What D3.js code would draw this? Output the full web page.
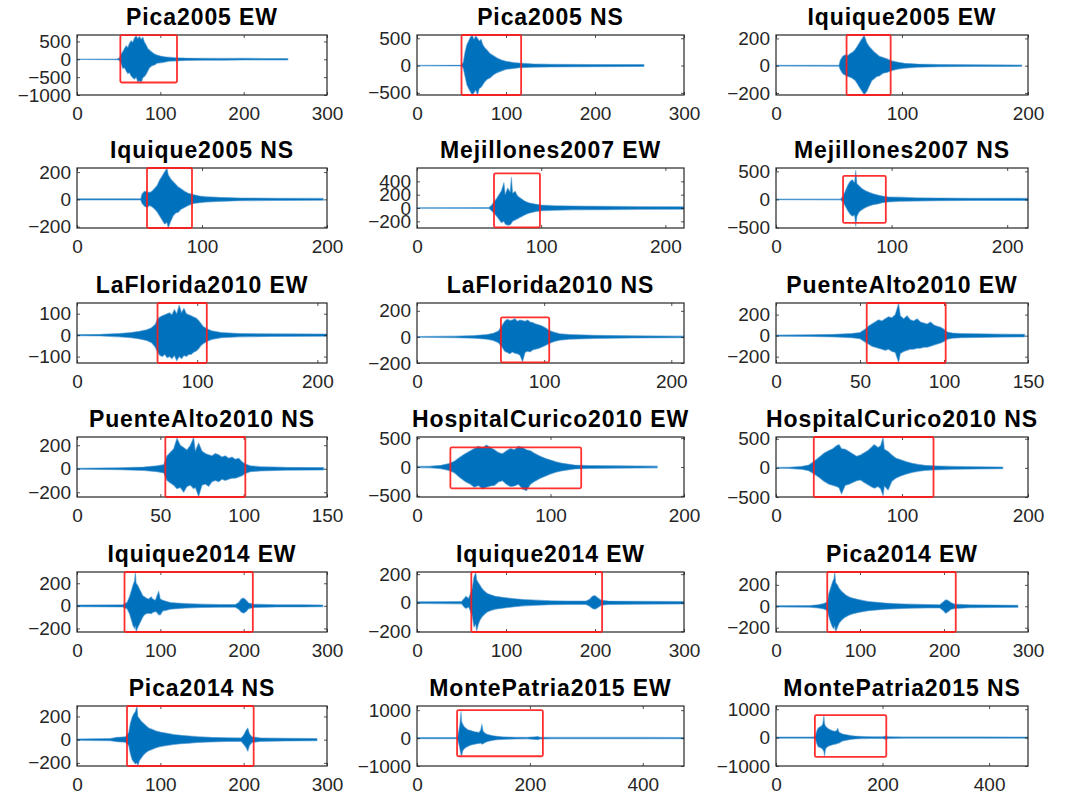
<!DOCTYPE html>
<html>
<head>
<meta charset="utf-8">
<script src="https://cdn.jsdelivr.net/npm/d3@7"></script>
<style>
  body { margin: 0; background: #fff; }
  svg { display: block; }
</style>
</head>
<body>
<svg id="chart" width="1068" height="802"></svg>
<script>
// ---- records: titles, axis limits, ticks ----
const titles = [
  "Pica2005 EW", "Pica2005 NS", "Iquique2005 EW",
  "Iquique2005 NS", "Mejillones2007 EW", "Mejillones2007 NS",
  "LaFlorida2010 EW", "LaFlorida2010 NS", "PuenteAlto2010 EW",
  "PuenteAlto2010 NS", "HospitalCurico2010 EW", "HospitalCurico2010 NS",
  "Iquique2014 EW", "Iquique2014 EW", "Pica2014 EW",
  "Pica2014 NS", "MontePatria2015 EW", "MontePatria2015 NS"
];
const xLimits = [300, 300, 200, 200, 215, 218, 208, 210, 150, 150, 200, 200, 300, 300, 300, 300, 473, 473];
const xTickValues = [
  [0, 100, 200, 300], [0, 100, 200, 300], [0, 100, 200],
  [0, 100, 200], [0, 100, 200], [0, 100, 200],
  [0, 100, 200], [0, 100, 200], [0, 50, 100, 150],
  [0, 50, 100, 150], [0, 100, 200], [0, 100, 200],
  [0, 100, 200, 300], [0, 100, 200, 300], [0, 100, 200, 300],
  [0, 100, 200, 300], [0, 200, 400], [0, 200, 400]
];
const yLimits = [
  [-1000, 680], [-540, 560], [-215, 225],
  [-210, 230], [-300, 600], [-510, 560],
  [-130, 150], [-200, 260], [-260, 310],
  [-240, 270], [-520, 520], [-500, 530],
  [-232, 300], [-205, 215], [-240, 320],
  [-227, 290], [-1000, 1150], [-1000, 1113]
];
const yTickValues = [
  [-1000, -500, 0, 500], [-500, 0, 500], [-200, 0, 200],
  [-200, 0, 200], [-200, 0, 200, 400], [-500, 0, 500],
  [-100, 0, 100], [-200, 0, 200], [-200, 0, 200],
  [-200, 0, 200], [-500, 0, 500], [-500, 0, 500],
  [-200, 0, 200], [-200, 0, 200], [-200, 0, 200],
  [-200, 0, 200], [-1000, 0, 1000], [-1000, 0, 1000]
];

// ---- selected strong-motion windows (time range, amplitude range) ----
const windowTime = [
  [52, 120], [50, 117], [56, 91],
  [56, 92], [62, 99], [58, 95],
  [67, 108], [66, 104], [54, 101],
  [53, 101], [25, 123], [30, 125],
  [57, 211], [61, 208], [61, 214],
  [60, 212], [71, 223], [73, 207]
];
const windowAmp = [
  [-650, 675], [-540, 560], [-215, 225],
  [-210, 230], [-290, 520], [-420, 420],
  [-130, 150], [-195, 150], [-260, 310],
  [-240, 270], [-370, 340], [-500, 530],
  [-232, 300], [-205, 215], [-240, 320],
  [-227, 290], [-650, 1000], [-679, 792]
];

// ---- acceleration envelopes: [time s, upper, lower] ----
const picaEW2005 = [[0,8,-8],[48,10,-10],[51,40,-30],[53,150,-120],[55,220,-260],[57,300,-240],[59,380,-330],[61,330,-400],[63,450,-380],[65,520,-470],[67,480,-520],[69,600,-560],[71,650,-500],[73,580,-640],[75,640,-600],[77,560,-660],[79,620,-520],[81,480,-480],[83,400,-420],[85,300,-330],[87,260,-240],[90,200,-180],[93,150,-160],[96,120,-110],[100,90,-100],[105,70,-80],[110,60,-55],[118,45,-45],[130,35,-35],[150,30,-28],[175,25,-25],[200,28,-22],[225,22,-22],[253,20,-20]];
const picaNS2005 = [[0,6,-6],[50,8,-8],[52,60,-50],[54,250,-200],[56,380,-350],[58,450,-420],[60,520,-480],[62,555,-535],[64,480,-500],[66,540,-450],[68,500,-540],[70,450,-420],[72,480,-400],[74,380,-350],[76,330,-300],[79,280,-250],[82,220,-230],[86,180,-170],[90,140,-130],[95,100,-100],[100,80,-70],[108,55,-55],[115,45,-40],[130,30,-30],[150,25,-25],[200,20,-20],[255,18,-18]];
const iquiqueEW2005 = [[0,3,-3],[50,4,-4],[51,40,-30],[53,70,-60],[55,80,-70],[57,75,-80],[59,90,-85],[61,100,-95],[63,120,-110],[65,150,-140],[67,180,-170],[70,222,-212],[72,170,-190],[74,140,-150],[76,120,-110],[78,100,-95],[80,85,-80],[82,70,-75],[85,60,-55],[88,50,-50],[92,35,-35],[97,25,-25],[102,18,-18],[112,12,-12],[130,8,-8],[160,6,-6],[195,5,-5]];
const iquiqueNS2005 = [[0,4,-4],[51,5,-5],[52,40,-30],[54,60,-50],[56,55,-60],[58,50,-45],[60,60,-55],[62,80,-70],[64,100,-90],[66,140,-120],[68,170,-150],[70,200,-180],[72,228,-170],[73,180,-208],[75,150,-160],[77,130,-120],[79,110,-100],[81,90,-95],[83,80,-75],[86,60,-60],[89,45,-45],[93,35,-30],[98,25,-25],[103,20,-20],[113,15,-15],[130,10,-10],[160,8,-8],[197,7,-7]];
const mejillonesEW2007 = [[0,5,-5],[58,8,-8],[60,40,-40],[62,90,-80],[64,140,-120],[66,200,-170],[68,260,-220],[70,380,-200],[71,200,-240],[73,300,-260],[75,240,-250],[76,460,-230],[77,220,-200],[79,250,-180],[81,180,-160],[84,140,-130],[87,100,-100],[90,80,-80],[95,60,-55],[100,45,-40],[110,35,-35],[125,30,-28],[150,25,-25],[180,20,-20],[215,18,-18]];
const mejillonesNS2007 = [[0,5,-5],[56,8,-8],[58,60,-50],[60,150,-120],[62,250,-200],[64,320,-260],[66,350,-300],[68,300,-280],[69,520,-480],[70,280,-300],[72,240,-220],[74,200,-190],[77,160,-150],[80,130,-120],[84,100,-95],[88,80,-80],[92,60,-60],[97,45,-45],[107,40,-35],[120,30,-30],[140,25,-25],[170,20,-20],[218,18,-18]];
const laFloridaEW2010 = [[0,3,-3],[20,4,-4],[35,8,-8],[45,12,-12],[52,18,-18],[58,25,-25],[62,35,-35],[65,50,-55],[67,75,-80],[69,85,-95],[71,90,-100],[73,95,-90],[75,100,-105],[77,105,-100],[79,95,-110],[81,120,-95],[83,100,-120],[85,140,-100],[87,105,-110],[89,125,-95],[91,100,-100],[93,95,-90],[95,90,-90],[97,85,-80],[99,80,-75],[101,70,-65],[103,55,-50],[105,40,-40],[108,30,-30],[112,20,-20],[120,12,-12],[135,8,-8],[160,6,-6],[208,5,-5]];
const laFloridaNS2010 = [[0,3,-3],[30,6,-6],[45,10,-10],[55,18,-18],[60,28,-28],[64,45,-45],[67,90,-80],[69,120,-110],[71,135,-120],[73,125,-130],[75,130,-115],[77,140,-125],[79,120,-130],[81,130,-140],[83,125,-190],[85,120,-120],[87,130,-110],[89,115,-115],[91,110,-100],[93,100,-95],[95,95,-90],[98,85,-80],[101,70,-65],[104,50,-50],[108,35,-35],[112,25,-25],[120,18,-18],[140,12,-12],[170,8,-8],[210,6,-6]];
const puenteAltoEW2010 = [[0,5,-5],[20,8,-8],[35,12,-12],[45,20,-20],[50,30,-30],[53,60,-60],[55,90,-80],[57,110,-100],[59,130,-110],[61,150,-120],[63,140,-130],[65,160,-140],[67,180,-130],[69,170,-150],[71,200,-160],[73,305,-255],[74,190,-170],[76,160,-150],[78,190,-140],[80,150,-130],[82,140,-130],[84,160,-120],[86,130,-120],[88,120,-110],[90,110,-110],[92,130,-100],[94,100,-90],[96,90,-80],[98,80,-70],[100,60,-55],[102,35,-35],[105,25,-25],[110,20,-20],[120,18,-18],[135,14,-14],[148,12,-12]];
const puenteAltoNS2010 = [[0,4,-4],[25,8,-8],[40,15,-15],[48,25,-25],[52,35,-35],[54,110,-100],[56,140,-120],[58,170,-140],[60,260,-170],[62,200,-160],[64,180,-200],[66,160,-150],[68,200,-140],[70,265,-170],[71,150,-160],[73,220,-235],[75,150,-140],[77,130,-130],[79,120,-150],[81,110,-110],[83,130,-100],[85,120,-110],[87,100,-90],[89,110,-100],[91,90,-90],[93,100,-80],[95,80,-80],[97,90,-70],[99,60,-60],[101,40,-40],[104,25,-25],[110,18,-18],[125,12,-12],[148,10,-10]];
const curicoEW2010 = [[0,10,-10],[10,15,-15],[18,30,-30],[24,60,-60],[28,100,-100],[32,170,-180],[36,230,-250],[40,280,-300],[43,320,-350],[46,360,-320],[49,330,-380],[52,380,-350],[55,340,-330],[58,300,-320],[61,250,-260],[64,230,-240],[67,280,-300],[70,320,-340],[73,300,-330],[76,360,-300],[79,340,-380],[82,300,-410],[85,280,-300],[88,240,-250],[92,190,-200],[96,150,-160],[100,120,-120],[104,90,-90],[108,70,-70],[113,50,-50],[118,35,-35],[128,25,-25],[150,20,-20],[180,15,-15]];
const curicoNS2010 = [[0,8,-8],[10,12,-12],[20,25,-25],[26,50,-50],[30,110,-100],[34,180,-160],[38,250,-230],[42,300,-280],[45,330,-300],[48,380,-320],[50,400,-340],[52,330,-450],[55,320,-300],[58,280,-280],[61,240,-250],[64,200,-220],[67,220,-210],[70,260,-250],[73,300,-290],[76,360,-330],[78,400,-350],[81,350,-320],[83,380,-360],[85,520,-480],[86,320,-310],[89,280,-380],[92,220,-230],[95,170,-180],[99,140,-140],[103,110,-110],[108,80,-80],[113,60,-60],[118,45,-45],[125,35,-35],[140,25,-25],[160,20,-20],[180,15,-15]];
const iquiqueEW2014a = [[0,8,-8],[55,10,-10],[60,30,-25],[63,80,-70],[65,130,-120],[67,180,-170],[69,220,-200],[70,300,-180],[71,200,-230],[73,180,-190],[75,150,-160],[77,120,-130],[79,90,-100],[81,80,-80],[83,70,-70],[86,60,-65],[89,80,-70],[91,60,-60],[94,50,-50],[96,90,-60],[98,130,-80],[100,60,-80],[103,50,-45],[107,40,-40],[112,30,-30],[120,25,-25],[130,20,-20],[150,15,-15],[170,12,-12],[190,12,-12],[194,30,-30],[197,60,-55],[200,70,-65],[203,50,-50],[206,25,-25],[212,15,-15],[240,10,-10],[270,10,-10],[295,8,-8]];
const iquiqueEW2014b = [[0,6,-6],[50,8,-8],[53,30,-30],[55,45,-40],[58,30,-30],[62,100,-90],[64,180,-170],[66,212,-150],[67,160,-200],[69,140,-150],[71,120,-120],[73,100,-100],[76,80,-80],[79,65,-65],[83,55,-55],[88,45,-45],[94,40,-40],[100,35,-35],[110,28,-28],[120,22,-22],[135,18,-18],[150,14,-14],[170,12,-12],[190,12,-12],[194,25,-25],[197,45,-40],[200,50,-45],[203,35,-35],[207,18,-18],[215,12,-12],[250,10,-10],[300,9,-9]];
const picaEW2014 = [[0,6,-6],[40,8,-8],[50,15,-15],[57,25,-25],[61,40,-40],[63,120,-100],[65,170,-150],[67,220,-190],[69,260,-210],[70,320,-180],[71,220,-240],[73,200,-200],[75,170,-160],[78,140,-130],[81,120,-110],[84,100,-95],[88,85,-80],[92,75,-70],[97,65,-60],[103,55,-50],[110,45,-42],[120,38,-35],[130,30,-28],[145,24,-22],[160,20,-18],[180,16,-15],[195,15,-15],[199,40,-40],[202,60,-65],[205,55,-50],[208,35,-30],[213,20,-20],[230,14,-14],[260,12,-12],[288,10,-10]];
const picaNS2014 = [[0,6,-6],[40,10,-10],[48,20,-18],[53,22,-20],[58,25,-22],[62,60,-50],[64,140,-120],[66,190,-170],[68,220,-190],[70,240,-210],[72,288,-200],[73,200,-226],[75,180,-180],[77,160,-160],[80,140,-130],[83,120,-110],[86,100,-95],[90,90,-85],[95,75,-70],[100,65,-60],[108,55,-50],[116,45,-42],[125,38,-35],[135,32,-30],[145,26,-25],[160,20,-20],[180,16,-16],[197,15,-15],[200,40,-40],[203,80,-70],[205,100,-100],[207,50,-50],[210,25,-25],[220,15,-15],[250,12,-12],[288,10,-10]];
const montePatriaEW2015 = [[0,20,-20],[70,22,-22],[72,60,-50],[74,250,-200],[76,500,-400],[78,950,-600],[79,600,-650],[81,500,-450],[84,400,-380],[87,350,-330],[90,300,-300],[94,280,-260],[98,250,-240],[102,230,-220],[106,220,-200],[110,200,-190],[113,300,-180],[115,500,-220],[117,250,-200],[120,180,-170],[124,140,-130],[129,110,-100],[135,85,-80],[142,65,-60],[150,50,-48],[160,40,-38],[175,32,-32],[195,28,-28],[210,50,-50],[214,60,-55],[218,30,-30],[240,25,-25],[320,25,-25],[400,24,-24],[473,22,-22]];
const montePatriaNS2015 = [[0,20,-20],[70,22,-22],[74,60,-50],[76,200,-180],[78,300,-280],[80,350,-330],[83,380,-350],[86,420,-380],[88,500,-420],[90,780,-500],[91,500,-660],[93,400,-400],[96,350,-330],[99,300,-300],[102,280,-280],[105,250,-260],[108,230,-240],[111,220,-230],[114,250,-220],[116,330,-200],[118,200,-200],[121,160,-160],[125,130,-120],[130,110,-100],[135,90,-80],[140,70,-65],[148,55,-50],[156,45,-42],[165,35,-35],[180,30,-30],[200,28,-28],[204,50,-50],[207,60,-55],[210,30,-30],[240,25,-25],[300,25,-25],[380,25,-25],[473,22,-22]];

const records = [
  picaEW2005, picaNS2005, iquiqueEW2005,
  iquiqueNS2005, mejillonesEW2007, mejillonesNS2007,
  laFloridaEW2010, laFloridaNS2010, puenteAltoEW2010,
  puenteAltoNS2010, curicoEW2010, curicoNS2010,
  iquiqueEW2014a, iquiqueEW2014b, picaEW2014,
  picaNS2014, montePatriaEW2015, montePatriaNS2015
];

// ---- page layout (pixels) ----
const colLeft  = [77, 417, 776];
const colRight = [327, 684, 1028];
const rowTop   = [35, 168, 303, 437, 572, 706];
const boxHeight = 60;

const FONT = '"Liberation Sans", Arial, Helvetica, sans-serif';
const BLUE = "#0072BD";
const INK = "#262626";
const fmt = d => String(d).replace("-", "\u2212");

const svg = d3.select("#chart");

records.forEach((rec, i) => {
  const row = Math.floor(i / 3), col = i % 3;
  const x0 = colLeft[col], x1 = colRight[col];
  const y0 = rowTop[row], y1 = rowTop[row] + boxHeight;

  const x = d3.scaleLinear().domain([0, xLimits[i]]).range([x0, x1]);
  const y = d3.scaleLinear().domain(yLimits[i]).range([y1, y0]);

  const g = svg.append("g");
  const clipId = "clip" + i;
  svg.append("clipPath").attr("id", clipId)
    .append("rect").attr("x", x0).attr("y", y0)
    .attr("width", x1 - x0).attr("height", y1 - y0);

  // waveform envelope
  const area = d3.area()
    .x(d => x(d[0]))
    .y0(d => y(d[2]))
    .y1(d => y(d[1]));
  g.append("path")
    .datum(rec)
    .attr("clip-path", `url(#${clipId})`)
    .attr("d", area)
    .attr("fill", BLUE)
    .attr("stroke", "#4d95cf")
    .attr("stroke-opacity", 0.55)
    .attr("stroke-width", 1.1)
    .attr("stroke-linejoin", "round");

  // axes with inward ticks on all four sides
  const styleAxis = sel => {
    sel.select(".domain").remove();
    sel.selectAll(".tick line").attr("stroke", INK).attr("stroke-width", 0.8);
    sel.selectAll(".tick text")
      .attr("fill", INK)
      .style("font-family", FONT)
      .style("font-size", "19px");
  };
  g.append("g").attr("transform", `translate(0,${y1})`)
    .call(d3.axisBottom(x).tickValues(xTickValues[i]).tickSize(-3).tickPadding(12).tickFormat(fmt))
    .call(styleAxis);
  g.append("g").attr("transform", `translate(0,${y0})`)
    .call(d3.axisTop(x).tickValues(xTickValues[i]).tickSize(-3).tickFormat(""))
    .call(styleAxis);
  g.append("g").attr("transform", `translate(${x0},0)`)
    .call(d3.axisLeft(y).tickValues(yTickValues[i]).tickSize(-3).tickPadding(6).tickFormat(fmt))
    .call(styleAxis);
  g.append("g").attr("transform", `translate(${x1},0)`)
    .call(d3.axisRight(y).tickValues(yTickValues[i]).tickSize(-3).tickFormat(""))
    .call(styleAxis);

  g.append("rect")
    .attr("x", x0).attr("y", y0)
    .attr("width", x1 - x0).attr("height", y1 - y0)
    .attr("fill", "none").attr("stroke", INK).attr("stroke-width", 1.2);

  // selected window
  const wt = windowTime[i], wa = windowAmp[i];
  g.append("rect")
    .attr("x", x(wt[0])).attr("y", y(wa[1]))
    .attr("width", x(wt[1]) - x(wt[0]))
    .attr("height", y(wa[0]) - y(wa[1]))
    .attr("rx", 1.5)
    .attr("fill", "none")
    .attr("stroke", "#ff1a1a")
    .attr("stroke-opacity", 0.9)
    .attr("stroke-width", 1.8);

  // title
  g.append("text")
    .attr("x", (x0 + x1) / 2)
    .attr("y", y0 - 10)
    .attr("text-anchor", "middle")
    .style("font-family", FONT)
    .style("font-size", "23px")
    .style("font-weight", "bold")
    .style("letter-spacing", "0.9px")
    .attr("fill", "#000")
    .text(titles[i]);
});
</script>
</body>
</html>
